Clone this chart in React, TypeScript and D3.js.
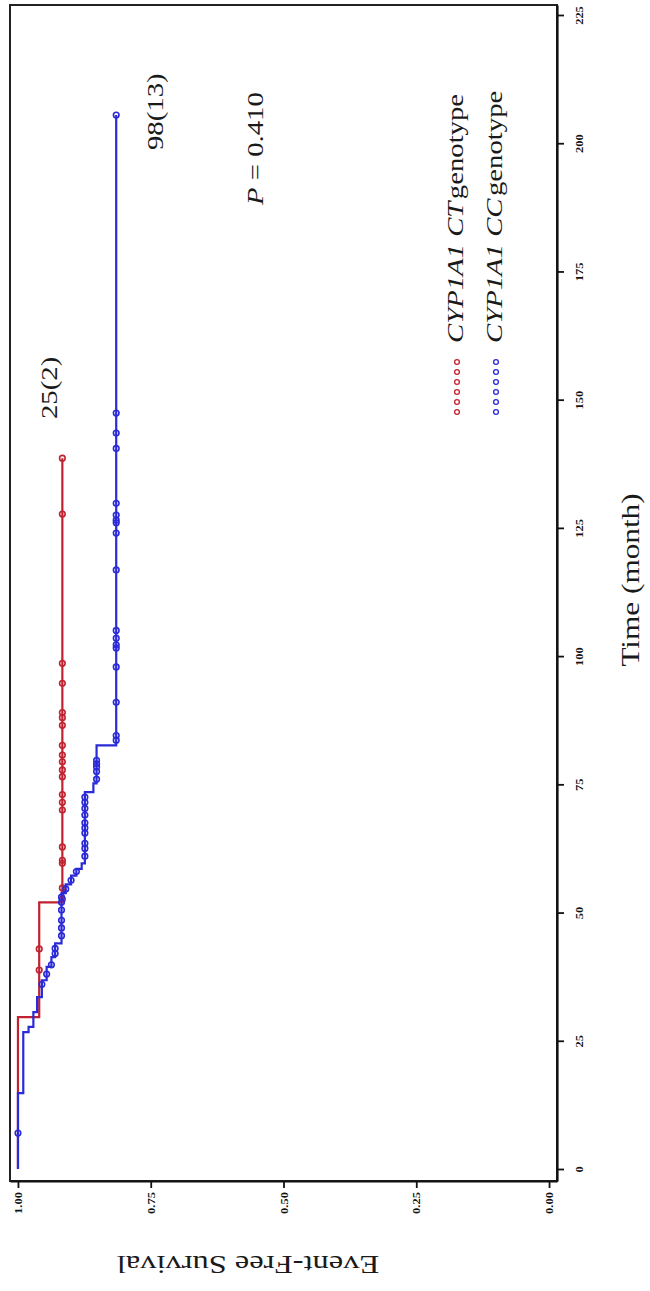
import React, { useEffect, useRef } from "react";
import * as d3 from "d3";

const WIDTH = 650;
const HEIGHT = 1291;

// Axis ticks
const timeTicks = [0, 25, 50, 75, 100, 125, 150, 175, 200, 225];
const survivalTicks = [0, 0.25, 0.5, 0.75, 1.0];

// CYP1A1 CT genotype (n = 25, 2 events): [month, survival after step]
const ctSteps: [number, number][] = [
  [0, 1.0],
  [29.6, 0.96],
  [52.0, 0.9164],
];
const ctLastFollowUp = 138.6;
const ctCensored = [
  38.8, 42.9, 52.6, 54.8, 59.6, 60.2, 62.8, 70.0, 71.5, 73.0, 76.5, 77.8, 79.4,
  80.7, 82.6, 86.5, 88.0, 89.0, 94.7, 98.6, 127.7, 138.6,
];

// CYP1A1 CC genotype (n = 98, 13 events)
const ccSteps: [number, number][] = [
  [0, 1.0],
  [14.8, 0.99],
  [26.7, 0.98],
  [27.7, 0.971],
  [30.6, 0.964],
  [33.5, 0.955],
  [36.8, 0.946],
  [39.4, 0.937],
  [41.3, 0.93],
  [44.0, 0.918],
  [53.8, 0.91],
  [55.5, 0.9],
  [57.2, 0.89],
  [58.5, 0.88],
  [59.6, 0.874],
  [73.5, 0.858],
  [75.2, 0.852],
  [82.6, 0.815],
];
const ccLastFollowUp = 205.5;
const ccCensored = [
  7.0, 36.0, 38.0, 39.8, 42.0, 43.0, 45.5, 47.0, 48.5, 50.5, 52.0, 53.0, 54.6,
  56.3, 58.0, 61.0, 62.5, 63.5, 65.5, 66.5, 67.5, 69.0, 70.3, 71.5, 72.5, 76.0,
  77.5, 78.4, 79.0, 79.7, 83.6, 84.5, 91.0, 97.9, 101.6, 102.2, 103.5, 105.0,
  116.8, 124.0, 126.0, 126.5, 127.5, 129.8, 140.5, 143.5, 147.4, 205.5,
];

const RED = "#c1222f";
const BLUE = "#2a2ad8";
const SERIF = "'Liberation Serif', 'Times New Roman', serif";
const STRETCH = 1.25;

// Plot is drawn turned a quarter turn: time runs upward, survival runs left to right (1 -> 0)
const tScale = d3.scaleLinear().domain([-2.34, 226.95]).range([1181, 5]);
const sScale = d3.scaleLinear().domain([-0.015, 1.015]).range([557, 10]);

function levelAt(steps: [number, number][], t: number) {
  let s = steps[0][1];
  for (const [time, val] of steps) if (time <= t) s = val;
  return s;
}

const kmLine = d3
  .line<[number, number]>()
  .x((d) => sScale(d[1]))
  .y((d) => tScale(d[0]))
  .curve(d3.curveStepBefore);

function curvePoints(steps: [number, number][], end: number): [number, number][] {
  return [...steps, [end, steps[steps.length - 1][1]]];
}

function Label(props: {
  x: number;
  y: number;
  size: number;
  anchor?: string;
  angle?: number;
  children: React.ReactNode;
}) {
  const { x, y, size, anchor = "start", angle = -90, children } = props;
  return (
    <text
      transform={`translate(${x},${y}) rotate(${angle}) scale(${STRETCH},1)`}
      fontFamily={SERIF}
      fontSize={size}
      fill="#1a1a1a"
      textAnchor={anchor}
    >
      {children}
    </text>
  );
}

export default function App() {
  const tAxisRef = useRef<SVGGElement>(null);
  const sAxisRef = useRef<SVGGElement>(null);

  useEffect(() => {
    const tg = d3.select(tAxisRef.current!);
    tg.selectAll("*").remove();
    tg.call(
      d3
        .axisRight(tScale)
        .tickValues(timeTicks)
        .tickSize(7)
        .tickSizeOuter(0)
        .tickFormat(d3.format("d"))
    );
    tg.select(".domain").attr("stroke", "#111").attr("stroke-width", 2.2);
    tg.selectAll(".tick line").attr("stroke", "#111").attr("stroke-width", 1.8);
    tg.selectAll<SVGTextElement, number>(".tick text")
      .attr("x", null)
      .attr("dy", "0.35em")
      .attr("transform", `translate(22,0) rotate(-90) scale(${STRETCH},1)`)
      .attr("text-anchor", "middle")
      .attr("font-family", SERIF)
      .attr("font-weight", 700)
      .attr("font-size", 10)
      .attr("fill", "#111");

    const sg = d3.select(sAxisRef.current!);
    sg.selectAll("*").remove();
    sg.call(
      d3
        .axisBottom(sScale)
        .tickValues(survivalTicks)
        .tickSize(7)
        .tickSizeOuter(0)
        .tickFormat(d3.format(".2f"))
    );
    sg.select(".domain").attr("stroke", "#111").attr("stroke-width", 2.2);
    sg.selectAll(".tick line").attr("stroke", "#111").attr("stroke-width", 1.8);
    sg.selectAll<SVGTextElement, number>(".tick text")
      .attr("y", null)
      .attr("dy", "0.35em")
      .attr("transform", `translate(0,22) rotate(-90) scale(${STRETCH},1)`)
      .attr("text-anchor", "middle")
      .attr("font-family", SERIF)
      .attr("font-weight", 700)
      .attr("font-size", 10)
      .attr("fill", "#111");
  }, []);

  const series = [
    { steps: ctSteps, end: ctLastFollowUp, censored: ctCensored, color: RED },
    { steps: ccSteps, end: ccLastFollowUp, censored: ccCensored, color: BLUE },
  ];

  const legendDots = d3.range(6).map((i) => 362 + i * 10);

  return (
    <svg
      width={WIDTH}
      height={HEIGHT}
      style={{ position: "absolute", left: 0, top: 0, background: "#fff" }}
    >
      {/* plot frame */}
      <rect
        x={sScale(1.015)}
        y={tScale(226.95)}
        width={sScale(-0.015) - sScale(1.015)}
        height={tScale(-2.34) - tScale(226.95)}
        fill="none"
        stroke="#222"
        strokeWidth={2}
      />

      {/* survival curves */}
      {series.map((s, i) => (
        <g key={i}>
          <path
            d={kmLine(curvePoints(s.steps, s.end)) || ""}
            fill="none"
            stroke={s.color}
            strokeWidth={2.2}
          />
          {s.censored.map((t, j) => (
            <circle
              key={j}
              cx={sScale(levelAt(s.steps, t))}
              cy={tScale(t)}
              r={2.8}
              fill="none"
              stroke={s.color}
              strokeWidth={1.6}
            />
          ))}
        </g>
      ))}

      {/* axes */}
      <g ref={tAxisRef} transform={`translate(${sScale(-0.015)},0)`} />
      <g ref={sAxisRef} transform={`translate(0,${tScale(-2.34)})`} />

      {/* axis titles */}
      <Label x={639} y={580} size={25} anchor="middle">
        Time (month)
      </Label>
      <Label x={248} y={1256} size={26} anchor="middle" angle={180}>
        Event-Free Survival
      </Label>

      {/* group annotations */}
      <Label x={57} y={419} size={23}>
        25(2)
      </Label>
      <Label x={163} y={150} size={23}>
        98(13)
      </Label>
      <Label x={263} y={205} size={23}>
        <tspan fontStyle="italic">P</tspan> = 0.410
      </Label>

      {/* legend */}
      {[
        { color: RED, geno: "CT", x: 457 },
        { color: BLUE, geno: "CC", x: 496 },
      ].map((d) => (
        <g key={d.geno}>
          {legendDots.map((y, k) => (
            <circle
              key={k}
              cx={d.x}
              cy={y}
              r={2.4}
              fill="none"
              stroke={d.color}
              strokeWidth={1.3}
            />
          ))}
          <Label x={d.x + 6} y={343} size={23}>
            <tspan fontStyle="italic">CYP1A1 {d.geno}</tspan>
            <tspan dx={2}>genotype</tspan>
          </Label>
        </g>
      ))}
    </svg>
  );
}
